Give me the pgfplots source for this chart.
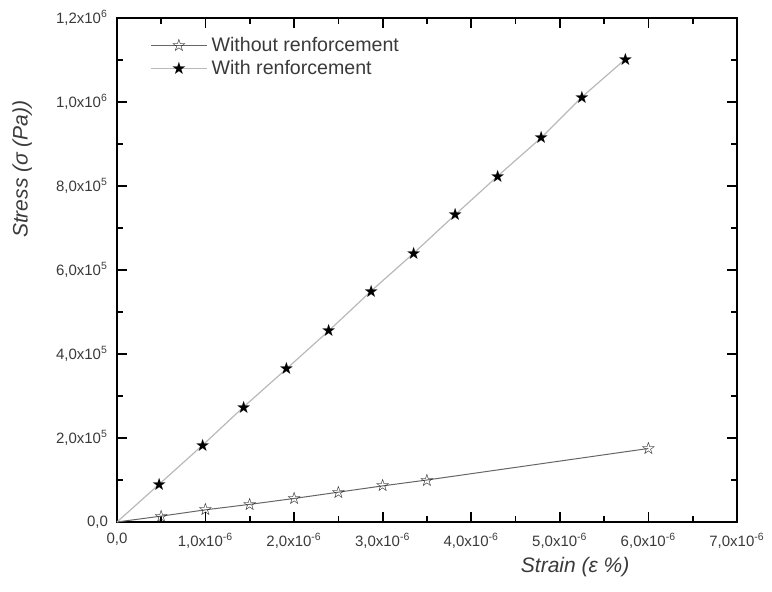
\documentclass[border=0pt]{standalone}
\usepackage{fontspec}
\setmainfont{Liberation Sans}
\newfontfamily\symfont{DejaVu Sans}
\usepackage{pgfplots}
\pgfplotsset{compat=1.18}
\usetikzlibrary{calc}
\definecolor{ticktext}{HTML}{3A3A3A}
\begin{document}
\begin{tikzpicture}
\begin{axis}[
  scale only axis,
  width=310pt, height=252pt,
  xmin=0, xmax=7e-6, ymin=0, ymax=1.2e6,
  scaled ticks=false,
  xtick={0,1e-6,2e-6,3e-6,4e-6,5e-6,6e-6,7e-6},
  xticklabels={0{,}0,1{,}0x10\textsuperscript{-6},2{,}0x10\textsuperscript{-6},3{,}0x10\textsuperscript{-6},4{,}0x10\textsuperscript{-6},5{,}0x10\textsuperscript{-6},6{,}0x10\textsuperscript{-6},7{,}0x10\textsuperscript{-6}},
  ytick={0,2e5,4e5,6e5,8e5,1e6,1.2e6},
  yticklabels={0{,}0,2{,}0x10\textsuperscript{5},4{,}0x10\textsuperscript{5},6{,}0x10\textsuperscript{5},8{,}0x10\textsuperscript{5},1{,}0x10\textsuperscript{6},1{,}2x10\textsuperscript{6}},
  minor x tick num=1, minor y tick num=1,
  tick align=inside,
  major tick length=5pt, minor tick length=3pt,
  every tick/.style={black, line width=0.9pt},
  axis line style={line width=1.1pt},
  tick label style={font=\fontsize{7.5}{8}\selectfont, text=ticktext},
  xticklabel style={yshift=-2pt},
  yticklabel style={xshift=-1pt},
  xlabel={\textit{Strain (ε \%)}},
  ylabel={\textit{Stress (σ (Pa))}},
  label style={font=\fontsize{10.5}{12}\selectfont, text=ticktext},
  xlabel style={at={(axis description cs:0.739,-0.089)}, anchor=center},
  ylabel style={at={(axis description cs:-0.153,0.70)}, anchor=center},
  legend style={draw=none, fill=none, at={(axis description cs:0.05,0.975)}, anchor=north west,
    font=\fontsize{9.8}{11}\selectfont, text=ticktext, row sep=-1pt, inner sep=1pt},
  legend cell align=left,
  legend image code/.code={\draw[mark indices={2}] plot coordinates {(0pt,0pt) (14pt,0pt) (28pt,0pt)};},
  clip=false,
]
\addplot[color=gray!80!black, line width=0.5pt, mark=text,
  text mark={\symfont\fontsize{8.5}{8.5}\selectfont ☆},
  mark options={gray!50!black}, mark indices={2,3,4,5,6,7,8,9}]
  coordinates {
  (0,0) (0.5e-6,1.4e4) (1.0e-6,2.9e4) (1.5e-6,4.2e4) (2.0e-6,5.6e4)
  (2.5e-6,7.1e4) (3.0e-6,8.6e4) (3.5e-6,1.0e5) (6.0e-6,1.75e5)
  };
\addlegendentry{Without renforcement}
\addplot[color=gray!55, line width=0.6pt, mark=text,
  text mark={\symfont\fontsize{8.5}{8.5}\selectfont ★},
  mark options={black}, mark indices={2,3,4,5,6,7,8,9,10,11,12,13}]
  coordinates {
  (0,0) (0.477e-6,9.0e4) (0.967e-6,1.83e5) (1.43e-6,2.74e5) (1.915e-6,3.65e5)
  (2.39e-6,4.55e5) (2.87e-6,5.5e5) (3.35e-6,6.4e5) (3.82e-6,7.32e5)
  (4.30e-6,8.24e5) (4.79e-6,9.15e5) (5.25e-6,1.012e6) (5.74e-6,1.102e6)
  };
\addlegendentry{With renforcement}
\end{axis}
\pgfresetboundingbox
\path ($(current axis.south west)+(-58.5pt,-35pt)$) rectangle ($(current axis.north east)+(17.5pt,9pt)$);
\end{tikzpicture}
\end{document}
